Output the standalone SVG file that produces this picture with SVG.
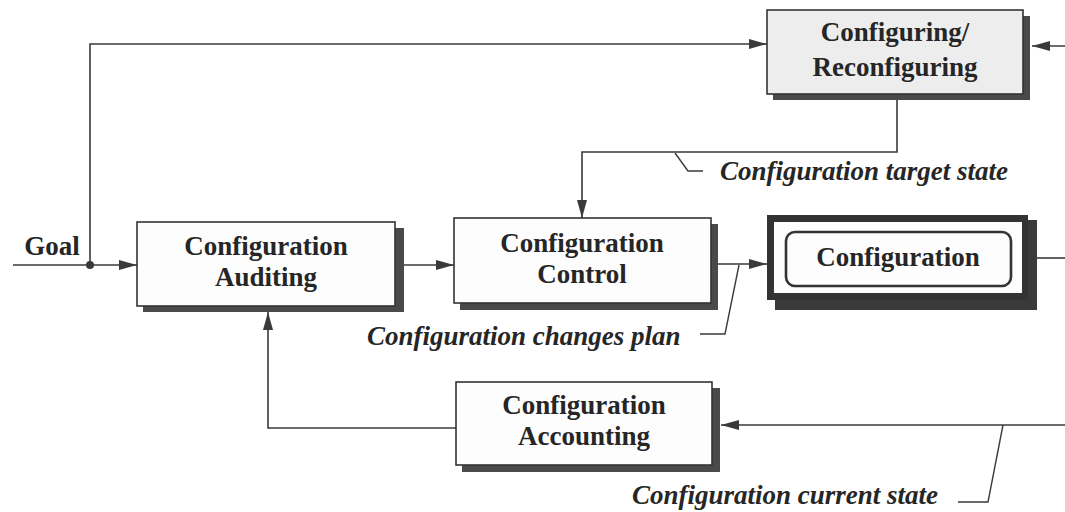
<svg xmlns="http://www.w3.org/2000/svg" width="1065" height="512" viewBox="0 0 1065 512">
<defs>
<marker id="ah" viewBox="0 0 18 10" refX="18" refY="5" markerWidth="18" markerHeight="10" markerUnits="userSpaceOnUse" orient="auto">
<path d="M0,0 L18,5 L0,10 Z" fill="#3a3a3a"/>
</marker>
<style>
.box{fill:#fdfdfd;stroke:#333;stroke-width:1.6}
.shadow{fill:#4a4a4a}
.t{font-family:"Liberation Serif","Times New Roman",serif;font-weight:bold;font-size:27px;fill:#262626;text-anchor:middle}
.lbl{font-family:"Liberation Serif","Times New Roman",serif;font-weight:bold;font-style:italic;font-size:27px;fill:#262626}
.ln{fill:none;stroke:#3a3a3a;stroke-width:1.6}
.ld{fill:none;stroke:#3a3a3a;stroke-width:1.4}
</style>
</defs>
<rect width="1065" height="512" fill="#ffffff"/>

<g id="connectors">
<path class="ln" d="M13,265 H137" marker-end="url(#ah)"/>
<circle cx="90" cy="265" r="4" fill="#3a3a3a"/>
<path class="ln" d="M90,265 V44 H767" marker-end="url(#ah)"/>
<path class="ln" d="M1065,46 H1032" marker-end="url(#ah)"/>
<path class="ln" d="M404,265 H454" marker-end="url(#ah)"/>
<path class="ln" d="M897,100 V152 H582 V218" marker-end="url(#ah)"/>
<path class="ln" d="M718,264 H767" marker-end="url(#ah)"/>
<path class="ln" d="M1037,258 H1065"/>
<path class="ln" d="M1065,425 H721" marker-end="url(#ah)"/>
<path class="ln" d="M456,428 H268 V312" marker-end="url(#ah)"/>
<path class="ld" d="M739,265 L725,334 H700"/>
<path class="ld" d="M675,153 L688,171 H703"/>
<path class="ld" d="M1003,425 L988,502 H958"/>
</g>

<g id="configuring">
<rect class="shadow" x="773" y="16" width="257" height="84"/>
<rect class="box" x="767" y="10" width="256" height="84" style="fill:#ededed"/>
<text class="t" x="895" y="41">Configuring/</text>
<text class="t" x="895" y="76">Reconfiguring</text>
</g>

<g id="auditing">
<rect class="shadow" x="143" y="228" width="261" height="84"/>
<rect class="box" x="137" y="222" width="258" height="84"/>
<text class="t" x="266" y="255">Configuration</text>
<text class="t" x="266" y="286">Auditing</text>
</g>

<g id="control">
<rect class="shadow" x="460" y="224" width="258" height="86"/>
<rect class="box" x="454" y="218" width="257" height="85"/>
<text class="t" x="582" y="252">Configuration</text>
<text class="t" x="582" y="283">Control</text>
</g>

<g id="configuration">
<rect x="775" y="220" width="262" height="90" fill="#3a3a3a"/>
<rect x="767" y="215" width="261" height="85" fill="#333"/>
<rect x="774" y="222" width="248" height="71" fill="#fdfdfd"/>
<rect x="786" y="232" width="225" height="54" rx="9" fill="none" stroke="#333" stroke-width="2.6"/>
<text class="t" x="898" y="266">Configuration</text>
</g>

<g id="accounting">
<rect class="shadow" x="462" y="388" width="258" height="84"/>
<rect class="box" x="456" y="382" width="256" height="83"/>
<text class="t" x="584" y="414">Configuration</text>
<text class="t" x="584" y="445">Accounting</text>
</g>

<g id="labels">
<text class="t" x="52" y="255">Goal</text>
<text class="lbl" x="720" y="180">Configuration target state</text>
<text class="lbl" x="367" y="345">Configuration changes plan</text>
<text class="lbl" x="632" y="504">Configuration current state</text>
</g>
</svg>
